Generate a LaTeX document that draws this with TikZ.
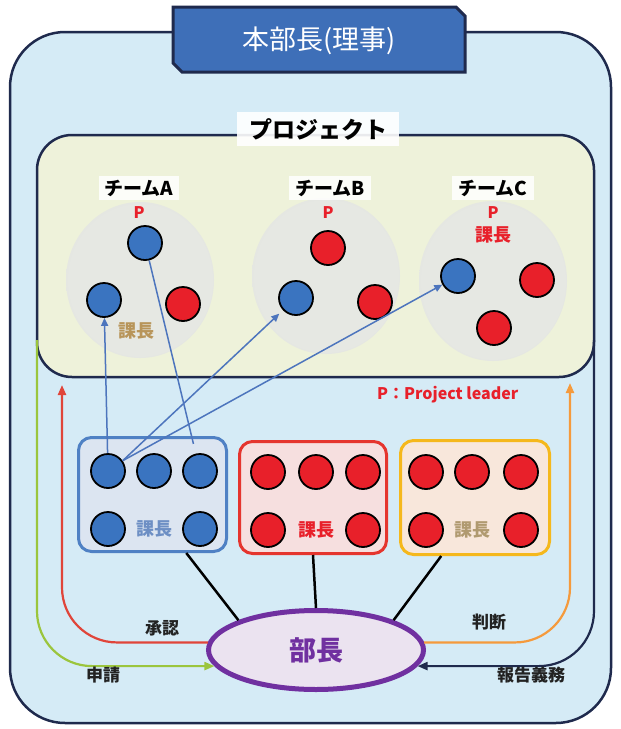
\documentclass[tikz,border=0pt]{standalone}
\usepackage{fontspec}
\setmainfont{Noto Sans CJK JP}
\usetikzlibrary{shapes.geometric,arrows.meta}
\definecolor{navy}{HTML}{1F2A4D}
\definecolor{outerfill}{HTML}{D5EBF6}
\definecolor{projfill}{HTML}{EEF2DA}
\definecolor{titlefill}{HTML}{3E6FB8}
\definecolor{cblue}{HTML}{3A74C0}
\definecolor{cred}{HTML}{E8202A}
\definecolor{boxAfill}{HTML}{DCE5F1}
\definecolor{boxAline}{HTML}{4F81C4}
\definecolor{boxRfill}{HTML}{F6DFDF}
\definecolor{boxRline}{HTML}{E5352E}
\definecolor{boxOfill}{HTML}{F8E7DB}
\definecolor{boxOline}{HTML}{F5B81C}
\definecolor{kaA}{HTML}{6D8FC4}
\definecolor{kaO}{HTML}{B09A70}
\definecolor{kaT}{HTML}{B8955A}
\definecolor{bufill}{HTML}{EBE3F0}
\definecolor{buline}{HTML}{7030A0}
\definecolor{gline}{HTML}{9BC53D}
\definecolor{rline}{HTML}{E0453A}
\definecolor{oline}{HTML}{F59A3C}
\definecolor{bline}{HTML}{4D75BD}
\definecolor{blobc}{HTML}{E6E8E3}
\definecolor{blobr}{HTML}{DADCD9}
\definecolor{txtc}{HTML}{222222}
\pgfdeclareradialshading{blob}{\pgfpoint{0bp}{0bp}}{color(0bp)=(blobc); color(24bp)=(blobc); color(34bp)=(blobr); color(47bp)=(projfill); color(50bp)=(projfill)}
\begin{document}
\begin{tikzpicture}[x=1pt,y=-1pt,
  circ/.style={circle, draw=black, line width=1.8pt, minimum size=34pt, inner sep=0pt},
  bc/.style={circ, fill=cblue},
  rc/.style={circ, fill=cred},
  grp/.style={rectangle, rounded corners=13pt, line width=3pt, inner sep=0pt},
  kacho/.style={font=\fontsize{18pt}{18pt}\selectfont\bfseries},
  plbl/.style={font=\fontsize{16pt}{16pt}\selectfont\bfseries, text=cred},
  team/.style={font=\fontsize{19pt}{19pt}\selectfont\bfseries, text=black, fill=white, fill opacity=0.85, text opacity=1, inner xsep=6pt, inner ysep=4pt},
  lbl/.style={font=\fontsize{17pt}{17pt}\selectfont\bfseries, text=txtc},
  conn/.style={line width=1.5pt, draw=bline},
  arr/.style={-{Triangle[length=8pt,width=7pt]}},
  flow/.style={line width=2.2pt, rounded corners=55pt, -{Triangle[length=10pt,width=8pt]}},
  link/.style={line width=2.5pt, draw=black}
]
\useasboundingbox (0,0) rectangle (621,729);
\fill[white] (0,0) rectangle (621,729);
% outer box
\draw[navy, line width=2.5pt, fill=outerfill, rounded corners=55pt] (10,32) rectangle (611,723);
% title
\draw[navy, line width=3pt, fill=titlefill] (173,7) -- (456,7) -- (465,16) -- (465,72) -- (182,72) -- (173,63) -- cycle;
\node[font=\fontsize{27pt}{27pt}\selectfont, text=white] (title) at (319,41) {本部長(理事)};
% project box
\draw[navy, line width=2.5pt, fill=projfill, rounded corners=35pt] (37,135) rectangle (594,377);
% team blobs
\shade[shading=blob] (140,280) ellipse [x radius=74pt, y radius=78pt];
\shade[shading=blob] (326,276) ellipse [x radius=74pt, y radius=78pt];
\shade[shading=blob] (493,281) ellipse [x radius=74pt, y radius=80pt];
\node[font=\fontsize{23pt}{23pt}\selectfont\bfseries, fill=white, fill opacity=0.9, text opacity=1, inner xsep=12pt, inner ysep=6pt] (proj) at (318,129) {プロジェクト};
\node[team] (teamA) at (139,188) {チームA};
\node[team] (teamB) at (330,188) {チームB};
\node[team] (teamC) at (493,188) {チームC};
\node[plbl] (pA) at (139,213) {P};
\node[plbl] (pB) at (328,213) {P};
\node[plbl] (pC) at (493,213) {P};
\node[kacho, text=cred] (kC) at (493,235) {課長};
\node[kacho, text=kaT] (kT) at (136,331) {課長};
% team circles
\node[bc] (tA1) at (145,243) {};
\node[bc] (tA2) at (104,300) {};
\node[rc] (tA3) at (183,304) {};
\node[rc] (tB1) at (328,248) {};
\node[bc] (tB2) at (296,298) {};
\node[rc] (tB3) at (375,302) {};
\node[bc] (tC1) at (458,276) {};
\node[rc] (tC2) at (537,280) {};
\node[rc] (tC3) at (494,328) {};
\node[font=\fontsize{16pt}{16pt}\selectfont\bfseries, text=cred, anchor=west, inner sep=0pt] (legend) at (377,395) {P：Project leader};
% groups
\node[grp, draw=boxAline, fill=boxAfill, minimum width=148pt, minimum height=114pt] (gA) at (152.5,494.5) {};
\node[grp, draw=boxRline, fill=boxRfill, minimum width=147pt, minimum height=112pt] (gR) at (313,497.5) {};
\node[grp, draw=boxOline, fill=boxOfill, minimum width=149pt, minimum height=114pt] (gO) at (475,497.5) {};
\node[bc] (b1) at (108,471) {};
\node[bc] (b2) at (154,471) {};
\node[bc] (b3) at (200,471) {};
\node[bc] (b4) at (108,529) {};
\node[bc] (b5) at (200,529) {};
\node[kacho, text=kaA] (kA) at (154,529) {課長};
\node[rc] (r1) at (268,472) {};
\node[rc] (r2) at (316,472) {};
\node[rc] (r3) at (363,472) {};
\node[rc] (r4) at (268,530) {};
\node[rc] (r5) at (363,530) {};
\node[kacho, text=cred] (kR) at (316,530) {課長};
\node[rc] (o1) at (426,472) {};
\node[rc] (o2) at (472,472) {};
\node[rc] (o3) at (521,472) {};
\node[rc] (o4) at (426,530) {};
\node[rc] (o5) at (521,530) {};
\node[kacho, text=kaO] (kO) at (472,530) {課長};
% manager
\node[ellipse, draw=buline, line width=5pt, fill=bufill, minimum width=215pt, minimum height=79pt, inner sep=0pt, font=\fontsize{27pt}{27pt}\selectfont\bfseries, text=buline] (bucho) at (316,650) {部長};
% links
\draw[link] (gA.-60) -- (bucho.159);
\draw[link] (gR.south) -- (bucho.north);
\draw[link] (gO.-120) -- (bucho.21);
% flows
\coordinate (gstart) at (37,340);
\coordinate (rend) at (62,385);
\coordinate (oend) at (570,383);
\coordinate (nstart) at (594,340);
\draw[flow, draw=gline, gline] (gstart) |- (bucho.189);
\draw[flow, draw=rline, rline] (bucho.176) -| (rend);
\draw[flow, draw=oline, oline] (bucho.4) -| (oend);
\draw[flow, draw=navy, navy] (nstart) |- (bucho.-9);
\node[lbl] (shonin) at (162,628) {承認};
\node[lbl] (shinsei) at (103,675) {申請};
\node[lbl] (handan) at (489,622) {判断};
\node[lbl] (hokoku) at (531,675) {報告義務};
% blue connectors
\draw[conn, arr, bline] (b1) -- (tA2);
\draw[conn, shorten >=10pt] (tA1) -- (b3);
\draw[conn, arr, bline, shorten >=5pt] (b1.35) -- (tB2);
\draw[conn, arr, bline] (b1.35) -- (tC1);
\end{tikzpicture}
\end{document}
